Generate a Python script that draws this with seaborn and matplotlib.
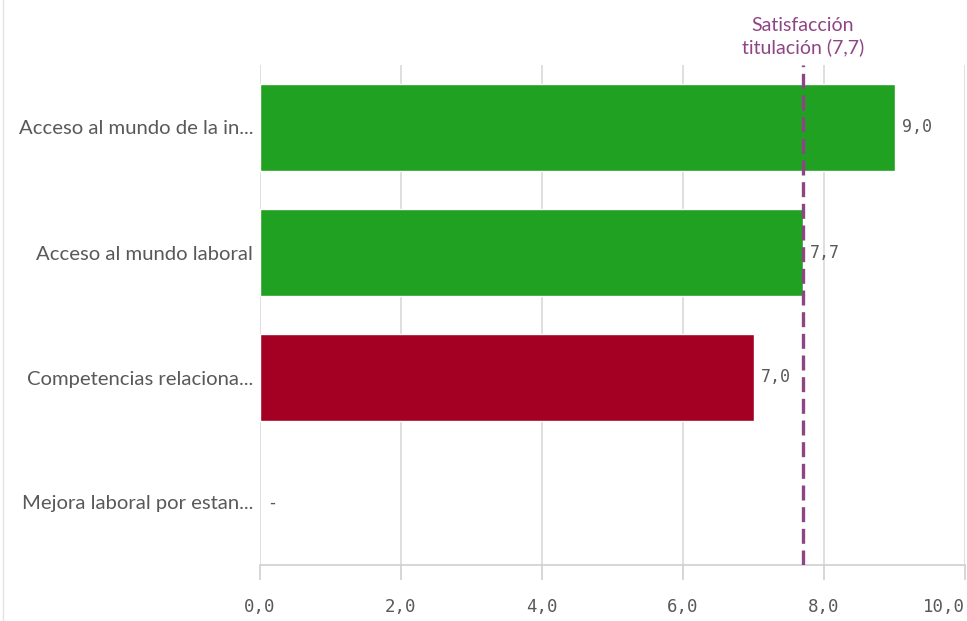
import numpy as np
import pandas as pd
import matplotlib
matplotlib.use("Agg")
import matplotlib.pyplot as plt
from matplotlib.lines import Line2D
import seaborn as sns

# data
categories = [
    "Acceso al mundo de la in...",
    "Acceso al mundo laboral",
    "Competencias relaciona...",
    "Mejora laboral por estan...",
]
values = [9.0, 7.7, 7.0, np.nan]
bar_colors = ["#21a121", "#21a121", "#a30023", "#a30023"]
reference_value = 7.7
reference_label = "Satisfacción\ntitulación (7,7)"
x_ticks = [0, 2, 4, 6, 8, 10]

df = pd.DataFrame({"cat": categories, "val": values})

sns.set_theme(style="white")
plt.rcParams["font.family"] = ["Lato", "DejaVu Sans"]

fig = plt.figure(figsize=(9.67, 6.21), dpi=100)
ax = fig.add_axes([260 / 967, 1 - 565 / 621, 705 / 967, 500 / 621])

# faint page border on the left edge
fig.add_artist(Line2D([3 / 967, 3 / 967], [0, 1], transform=fig.transFigure,
                      color="#e3e3e3", linewidth=1))

sns.barplot(data=df, y="cat", x="val", hue="cat", palette=bar_colors,
            orient="h", width=0.7, legend=False, ax=ax, saturation=1)

ax.set_xlim(0, 10)
ax.set_ylim(3.5, -0.5)
ax.set_xticks(x_ticks)
ax.set_xticklabels([f"{t:.1f}".replace(".", ",") for t in x_ticks],
                   family="DejaVu Sans Mono", fontsize=12.5, color="#595959")
ax.get_xticklabels()[-1].set_horizontalalignment("right")
ax.tick_params(axis="x", bottom=True, length=11, width=1.2, color="#d0d0d0", pad=13)
ax.tick_params(axis="y", length=0, pad=5, labelsize=14.6, labelcolor="#595959")
ax.set_xlabel("")
ax.set_ylabel("")
ax.grid(axis="x", color="#d9d9d9", linewidth=1.2)
ax.set_axisbelow(True)
for side in ["top", "right", "left"]:
    ax.spines[side].set_visible(False)
ax.spines["bottom"].set_color("#d0d0d0")
ax.spines["bottom"].set_linewidth(1.2)

# value labels
for i, v in enumerate(values):
    if np.isnan(v):
        ax.text(0.1, i, "-", va="center", ha="left", fontsize=12,
                color="#595959", family="DejaVu Sans Mono")
    else:
        ax.text(v + 0.1, i, f"{v:.1f}".replace(".", ","), va="center", ha="left",
                fontsize=12, color="#595959", family="DejaVu Sans Mono")

# reference line
ax.axvline(reference_value, color="#8e4585", linewidth=2.4,
           linestyle=(0, (4.5, 2)), zorder=5)
ax.text(reference_value, 1.018, reference_label, transform=ax.get_xaxis_transform(),
        ha="center", va="bottom", fontsize=14, color="#8e4585", linespacing=1.3)

fig.savefig("out.png", dpi=100)
